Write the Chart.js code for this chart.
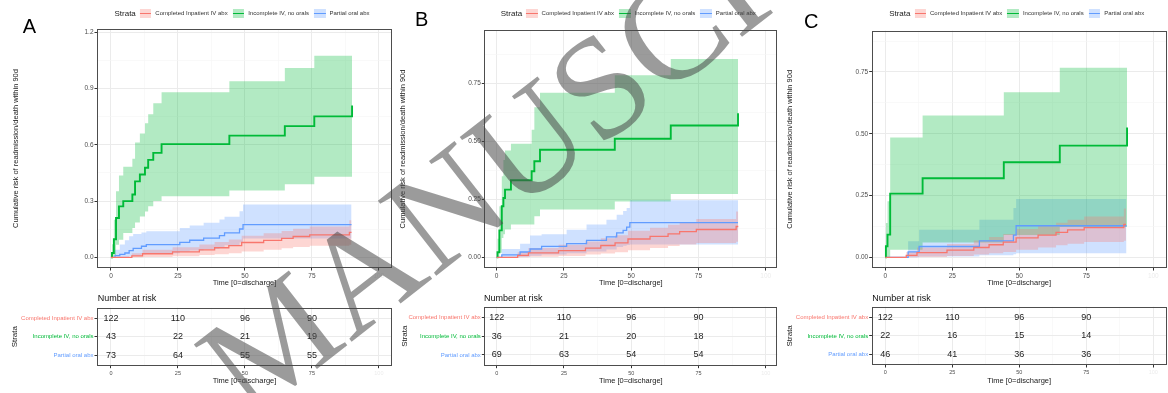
<!DOCTYPE html>
<html>
<head>
<meta charset="utf-8">
<title>Cumulative risk of readmission/death within 90d</title>
<script src="https://cdn.jsdelivr.net/npm/chart.js@4.4.1/dist/chart.umd.min.js"></script>
<style>
  html, body { margin: 0; padding: 0; background: #fff; }
  body { position: relative; width: 1168px; height: 393px; overflow: hidden;
         font-family: "Liberation Sans", Arial, Helvetica, sans-serif; color: #1a1a1a; }
  canvas { position: absolute; }
  .letter { position: absolute; font-size: 20px; line-height: 20px; color: #000; z-index: 2; }
  .nrisk { position: absolute; font-size: 9px; line-height: 10px; color: #111; z-index: 2; }
  .legend { position: absolute; top: 7.8px; height: 11px; display: flex; align-items: center;
            transform: translateX(-50%); white-space: nowrap; z-index: 2; }
  .legend .ttl { font-size: 8px; margin-right: 4px; color: #1a1a1a; }
  .legend .key { position: relative; width: 11.5px; height: 9.3px; margin-right: 4px; }
  .legend .key i { position: absolute; left: 0; right: 0; top: 4px; height: 1.4px; }
  .legend .lab { font-size: 6px; margin-right: 5px; color: #333; }
  #wm { left: 0; top: 0; z-index: 3; pointer-events: none; }
</style>
</head>
<body>
<canvas id="wm" width="1168" height="393"></canvas>
<script>
(function () {
  "use strict";

  // ── Data ─────────────────────────────────────────────────────────

  const X_TICKS = [0, 25, 50, 75, 100];
  const Y_TICKS_A = [0, 0.3, 0.6, 0.9, 1.2];
  const Y_LABELS_A = ["0.0", "0.3", "0.6", "0.9", "1.2"];
  const Y_TICKS_BC = [0, 0.25, 0.5, 0.75];
  const Y_LABELS_BC = ["0.00", "0.25", "0.50", "0.75"];
  const STRATA = ["Completed Inpatient IV abx", "Incomplete IV, no orals", "Partial oral abx"];

  // Completed inpatient IV abx (same reference group in all panels)
  const T_RED   = [0, 7.8, 11.8, 23, 33, 38.7, 44, 48.8, 57, 63.7, 68, 74.2, 89, 89.8];
  const EST_RED = [0, 0.008, 0.019, 0.029, 0.04, 0.051, 0.062, 0.079, 0.09, 0.101, 0.111, 0.12, 0.133, 0.133];
  const HI_RED  = [0, 0.022, 0.04, 0.054, 0.068, 0.082, 0.095, 0.115, 0.128, 0.14, 0.152, 0.165, 0.198, 0.198];
  const LO_RED  = [0, 0, 0.002, 0.006, 0.012, 0.017, 0.022, 0.031, 0.04, 0.049, 0.055, 0.062, 0.067, 0.067];

  // Panel A
  const T_GREEN_A   = [0, 0.4, 1.1, 1.9, 3.0, 4.6, 8.0, 9.0, 10.8, 12.7, 13.9, 15.8, 18.9, 44.2, 64.9, 75.9, 90];
  const EST_GREEN_A = [0, 0.023, 0.096, 0.21, 0.272, 0.3, 0.335, 0.405, 0.442, 0.478, 0.52, 0.557, 0.604, 0.649, 0.7, 0.752, 0.81];
  const HI_GREEN_A  = [0, 0.07, 0.2, 0.352, 0.437, 0.483, 0.526, 0.612, 0.661, 0.715, 0.763, 0.822, 0.88, 0.939, 1.01, 1.075, 1.075];
  const LO_GREEN_A  = [0, 0, 0.01, 0.067, 0.094, 0.13, 0.157, 0.186, 0.218, 0.245, 0.272, 0.3, 0.326, 0.356, 0.39, 0.43, 0.43];

  const T_BLUE_A   = [0, 1.5, 3.3, 5.2, 6.8, 8.3, 11.4, 13.2, 25.7, 29.4, 34.6, 40.5, 42.4, 48, 49.3, 89.8];
  const EST_BLUE_A = [0, 0.009, 0.016, 0.023, 0.036, 0.048, 0.059, 0.068, 0.08, 0.091, 0.102, 0.116, 0.13, 0.151, 0.174, 0.174];
  const HI_BLUE_A  = [0, 0.04, 0.068, 0.091, 0.113, 0.124, 0.133, 0.139, 0.157, 0.17, 0.184, 0.202, 0.216, 0.246, 0.282, 0.282];
  const LO_BLUE_A  = [0, 0, 0, 0.002, 0.006, 0.011, 0.017, 0.022, 0.03, 0.037, 0.044, 0.054, 0.064, 0.079, 0.1, 0.1];

  // Panel B
  const T_GREEN_B   = [0, 0.3, 1.0, 1.9, 2.5, 3.1, 5.3, 13.0, 14.0, 16.1, 43.9, 64.7, 89.7];
  const EST_GREEN_B = [0, 0.022, 0.116, 0.22, 0.256, 0.292, 0.332, 0.371, 0.414, 0.464, 0.511, 0.568, 0.621];
  const HI_GREEN_B  = [0, 0.08, 0.22, 0.35, 0.42, 0.46, 0.49, 0.55, 0.647, 0.71, 0.785, 0.855, 0.855];
  const LO_GREEN_B  = [0, 0, 0.02, 0.083, 0.1, 0.12, 0.141, 0.141, 0.177, 0.206, 0.241, 0.273, 0.273];

  const T_BLUE_B   = [0, 1.9, 8.7, 12.4, 16.7, 26, 33.4, 40.8, 44.6, 47, 48.3, 49.5, 89.7];
  const EST_BLUE_B = [0, 0.011, 0.023, 0.036, 0.047, 0.059, 0.073, 0.088, 0.105, 0.116, 0.13, 0.15, 0.15];
  const HI_BLUE_B  = [0, 0.036, 0.059, 0.094, 0.1, 0.119, 0.141, 0.162, 0.184, 0.2, 0.213, 0.246, 0.246];
  const LO_BLUE_B  = [0, 0, 0.002, 0.007, 0.012, 0.018, 0.025, 0.034, 0.044, 0.05, 0.053, 0.055, 0.055];

  // Panel C
  const T_GREEN_C   = [0, 0.2, 0.8, 1.8, 13.9, 44.2, 65.1, 90.2];
  const EST_GREEN_C = [0, 0.045, 0.092, 0.258, 0.32, 0.385, 0.452, 0.525];
  const HI_GREEN_C  = [0, 0.139, 0.227, 0.485, 0.574, 0.668, 0.767, 0.767];
  const LO_GREEN_C  = [0, 0, 0, 0.031, 0.06, 0.09, 0.123, 0.123];

  const T_BLUE_C   = [0, 8.5, 12.6, 35.1, 47.8, 48.8, 90];
  const EST_BLUE_C = [0, 0.022, 0.044, 0.067, 0.09, 0.128, 0.128];
  const HI_BLUE_C  = [0, 0.065, 0.112, 0.152, 0.2, 0.236, 0.236];
  const LO_BLUE_C  = [0, 0, 0.004, 0.009, 0.013, 0.017, 0.017];

  // Number at risk
  const RISK_TIMES = [0, 25, 50, 75];
  const RISK_RED = [122, 110, 96, 90];
  const RISK_GREEN_A = [43, 22, 21, 19];
  const RISK_BLUE_A = [73, 64, 55, 55];
  const RISK_GREEN_B = [36, 21, 20, 18];
  const RISK_BLUE_B = [69, 63, 54, 54];
  const RISK_GREEN_C = [22, 16, 15, 14];
  const RISK_BLUE_C = [46, 41, 36, 36];

  // ── Styles / layout ──────────────────────────────────────────────

  const LINE = ["#F8766D", "#00BA38", "#619CFF"];
  const BAND = ["rgba(248,118,109,0.3)", "rgba(0,186,56,0.3)", "rgba(97,156,255,0.3)"];
  const FONT = '"Liberation Sans", Arial, Helvetica, sans-serif';

  Chart.defaults.font.family = FONT;
  Chart.defaults.color = "#4d4d4d";

  function curve(t, est, lo, hi) { return { t: t, est: est, lo: lo, hi: hi }; }
  const RED = curve(T_RED, EST_RED, LO_RED, HI_RED);

  const PANELS = [
    { id: "A", left: 0, width: 394, xMin: -5.2, xMax: 104.9, yMin: -0.057, yMax: 1.218,
      plot: { l: 97, r: 392, t: 29, b: 268 }, tbl: { t: 307.7, b: 365.7 },
      yTitleX: 16, strataX: 15, letter: [22.7, 15.7], nrisk: 97.7,
      yTicks: Y_TICKS_A, yLabels: Y_LABELS_A,
      curves: [RED, curve(T_GREEN_A, EST_GREEN_A, LO_GREEN_A, HI_GREEN_A), curve(T_BLUE_A, EST_BLUE_A, LO_BLUE_A, HI_BLUE_A)],
      risk: [RISK_RED, RISK_GREEN_A, RISK_BLUE_A] },
    { id: "B", left: 394, width: 386, xMin: -4.6, xMax: 104.3, yMin: -0.046, yMax: 0.98,
      plot: { l: 484.3, r: 777.3, t: 30, b: 268 }, tbl: { t: 306.7, b: 365.7 },
      yTitleX: 403, strataX: 405, letter: [415, 9.1], nrisk: 484,
      yTicks: Y_TICKS_BC, yLabels: Y_LABELS_BC,
      curves: [RED, curve(T_GREEN_B, EST_GREEN_B, LO_GREEN_B, HI_GREEN_B), curve(T_BLUE_B, EST_BLUE_B, LO_BLUE_B, HI_BLUE_B)],
      risk: [RISK_RED, RISK_GREEN_B, RISK_BLUE_B] },
    { id: "C", left: 780, width: 388, xMin: -5.1, xMax: 105, yMin: -0.043, yMax: 0.917,
      plot: { l: 871.7, r: 1166.7, t: 30.7, b: 268 }, tbl: { t: 306.7, b: 365 },
      yTitleX: 790, strataX: 790, letter: [804, 10.7], nrisk: 872.3,
      yTicks: Y_TICKS_BC, yLabels: Y_LABELS_BC,
      curves: [RED, curve(T_GREEN_C, EST_GREEN_C, LO_GREEN_C, HI_GREEN_C), curve(T_BLUE_C, EST_BLUE_C, LO_BLUE_C, HI_BLUE_C)],
      risk: [RISK_RED, RISK_GREEN_C, RISK_BLUE_C] }
  ];

  // ── Helpers ──────────────────────────────────────────────────────

  function pts(t, v) { return t.map(function (x, i) { return { x: x, y: v[i] }; }); }

  function withMinor(majors, min, max) {
    const step = majors[1] - majors[0];
    const out = majors.slice();
    for (let v = majors[0] - step / 2; v <= max; v += step) {
      if (v >= min) out.push(v);
    }
    return out.sort(function (a, b) { return a - b; });
  }

  function addCanvas(left, top, w, h) {
    const c = document.createElement("canvas");
    c.width = w; c.height = h;
    c.style.left = left + "px"; c.style.top = top + "px";
    document.body.appendChild(c);
    return c;
  }

  function addDiv(cls, text, left, top) {
    const d = document.createElement("div");
    d.className = cls;
    d.textContent = text;
    d.style.left = left + "px"; d.style.top = top + "px";
    document.body.appendChild(d);
    return d;
  }

  const panelBorder = {
    id: "panelBorder",
    afterDatasetsDraw: function (chart) {
      const a = chart.chartArea, ctx = chart.ctx;
      ctx.save();
      ctx.strokeStyle = "#4d4d4d";
      ctx.lineWidth = 1;
      ctx.strokeRect(Math.round(a.left) + 0.5, Math.round(a.top) + 0.5,
        Math.round(a.right - a.left) - 1, Math.round(a.bottom - a.top) - 1);
      ctx.restore();
    }
  };

  const riskText = {
    id: "riskText",
    afterDatasetsDraw: function (chart) {
      const ctx = chart.ctx;
      ctx.save();
      ctx.font = "9px " + FONT;
      ctx.fillStyle = "#1a1a1a";
      ctx.textAlign = "center";
      ctx.textBaseline = "middle";
      chart.data.datasets.forEach(function (ds, di) {
        chart.getDatasetMeta(di).data.forEach(function (pt, i) {
          ctx.fillText(String(ds.counts[i]), pt.x, pt.y);
        });
      });
      ctx.restore();
    }
  };

  function xScale(p, height, tickSize, titlePad) {
    const isMajor = function (v) { return X_TICKS.indexOf(v) >= 0; };
    return {
      type: "linear", min: p.xMin, max: p.xMax,
      afterBuildTicks: function (s) {
        s.ticks = withMinor(X_TICKS, p.xMin, p.xMax).map(function (v) { return { value: v }; });
      },
      afterFit: function (s) { s.height = height; },
      ticks: {
        autoSkip: false, maxRotation: 0, padding: 1.5,
        font: { size: tickSize },
        color: function (ctx) { return ctx.tick && ctx.tick.value === 100 ? "#ececec" : "#4d4d4d"; },
        callback: function (v) { return isMajor(v) ? String(v) : ""; }
      },
      grid: {
        color: function (ctx) { return isMajor(ctx.tick.value) ? "#ebebeb" : "#f5f5f5"; },
        lineWidth: function (ctx) { return isMajor(ctx.tick.value) ? 1 : 0.6; },
        tickLength: 2.5,
        tickColor: function (ctx) { return isMajor(ctx.tick.value) ? "#333" : "rgba(0,0,0,0)"; }
      },
      border: { display: false },
      title: { display: true, text: "Time [0=discharge]", color: "#1a1a1a",
        font: { size: 7.5 }, padding: { top: 0, bottom: titlePad } }
    };
  }

  // ── Survival panel ───────────────────────────────────────────────

  function kmChart(p) {
    const canvas = addCanvas(p.left, 0, p.width, 290);
    const datasets = [];
    p.curves.forEach(function (c, k) {
      datasets.push({ data: pts(c.t, c.hi), stepped: "before", fill: "+1", backgroundColor: BAND[k],
        borderWidth: 0, borderColor: "rgba(0,0,0,0)", pointRadius: 0, order: 2 });
      datasets.push({ data: pts(c.t, c.lo), stepped: "before", fill: false,
        borderWidth: 0, borderColor: "rgba(0,0,0,0)", pointRadius: 0, order: 2 });
    });
    p.curves.forEach(function (c, k) {
      datasets.push({ label: STRATA[k], data: pts(c.t, c.est), stepped: "before", fill: false,
        borderColor: LINE[k], borderWidth: k === 1 ? 1.9 : 1.3, pointRadius: 0, order: 1 });
    });

    const isMajorY = function (v) { return p.yTicks.indexOf(v) >= 0; };

    new Chart(canvas, {
      type: "line",
      data: { datasets: datasets },
      plugins: [panelBorder],
      options: {
        responsive: false, animation: false, devicePixelRatio: 1, events: [],
        layout: { padding: { left: 0, top: p.plot.t, right: p.left + p.width - p.plot.r, bottom: 0 } },
        plugins: { legend: { display: false }, tooltip: { enabled: false } },
        scales: {
          x: xScale(p, 290 - p.plot.b, 6.5, 2.5),
          y: {
            type: "linear", min: p.yMin, max: p.yMax,
            afterBuildTicks: function (s) {
              s.ticks = withMinor(p.yTicks, p.yMin, p.yMax).map(function (v) { return { value: v }; });
            },
            afterFit: function (s) { s.width = p.plot.l - p.left; },
            ticks: {
              autoSkip: false, padding: 1, font: { size: 6.5 }, color: "#4d4d4d",
              callback: function (v) { const i = p.yTicks.indexOf(v); return i >= 0 ? p.yLabels[i] : ""; }
            },
            grid: {
              color: function (ctx) { return isMajorY(ctx.tick.value) ? "#ebebeb" : "#f5f5f5"; },
              lineWidth: function (ctx) { return isMajorY(ctx.tick.value) ? 1 : 0.6; },
              tickLength: 2.5,
              tickColor: function (ctx) { return isMajorY(ctx.tick.value) ? "#333" : "rgba(0,0,0,0)"; }
            },
            border: { display: false },
            title: { display: true, text: "Cumulative risk of readmission/death within 90d", color: "#1a1a1a",
              font: { size: 7.5 }, padding: { top: p.yTitleX - p.left - 4.5, bottom: 0 } }
          }
        }
      }
    });
  }

  // ── Risk table ───────────────────────────────────────────────────

  function riskChart(p) {
    const canvas = addCanvas(p.left, 290, p.width, 103);
    const datasets = p.risk.map(function (row, r) {
      return {
        data: RISK_TIMES.map(function (t) { return { x: t, y: r + 1 }; }),
        counts: row, pointRadius: 0, showLine: false
      };
    });

    new Chart(canvas, {
      type: "scatter",
      data: { datasets: datasets },
      plugins: [panelBorder, riskText],
      options: {
        responsive: false, animation: false, devicePixelRatio: 1, events: [],
        layout: { padding: { left: 0, top: p.tbl.t - 290, right: p.left + p.width - p.plot.r, bottom: 0 } },
        plugins: { legend: { display: false }, tooltip: { enabled: false } },
        scales: {
          x: xScale(p, 393 - p.tbl.b, 5.5, 7.8),
          y: {
            type: "linear", reverse: true, min: 0.42, max: 3.58,
            afterBuildTicks: function (s) {
              s.ticks = STRATA.map(function (name, i) { return { value: i + 1 }; });
            },
            afterFit: function (s) { s.width = p.plot.l - p.left; },
            ticks: {
              autoSkip: false, padding: 1, font: { size: 6 },
              color: function (ctx) { return LINE[ctx.tick.value - 1]; },
              callback: function (v) { return STRATA[v - 1]; }
            },
            grid: { color: "#ebebeb", lineWidth: 1, tickLength: 2.5, tickColor: "#333" },
            border: { display: false },
            title: { display: true, text: "Strata", color: "#1a1a1a",
              font: { size: 8 }, padding: { top: p.strataX - p.left - 4.8, bottom: 0 } }
          }
        }
      }
    });
  }

  // ── Legend, labels ───────────────────────────────────────────────

  function legend(p) {
    const box = addDiv("legend", "", (p.plot.l + p.plot.r) / 2, 7.8);
    const ttl = document.createElement("span");
    ttl.className = "ttl"; ttl.textContent = "Strata";
    box.appendChild(ttl);
    STRATA.forEach(function (name, k) {
      const key = document.createElement("span");
      key.className = "key";
      key.style.background = BAND[k];
      const ln = document.createElement("i");
      ln.style.background = LINE[k];
      key.appendChild(ln);
      const lab = document.createElement("span");
      lab.className = "lab"; lab.textContent = name;
      box.appendChild(key);
      box.appendChild(lab);
    });
  }

  PANELS.forEach(function (p) {
    kmChart(p);
    riskChart(p);
    legend(p);
    addDiv("letter", p.id, p.letter[0], p.letter[1]);
    addDiv("nrisk", "Number at risk", p.nrisk, 293.4);
  });

  // ── Watermark ────────────────────────────────────────────────────

  const wm = document.getElementById("wm").getContext("2d");
  wm.save();
  wm.translate(249, 422);
  wm.rotate(-38 * Math.PI / 180);
  wm.font = '145px "Liberation Serif", "Times New Roman", serif';
  wm.fillStyle = "rgba(72,72,72,0.55)";
  wm.fillText("MANUSCRIPT", 0, 0);
  wm.restore();
})();
</script>
</body>
</html>
